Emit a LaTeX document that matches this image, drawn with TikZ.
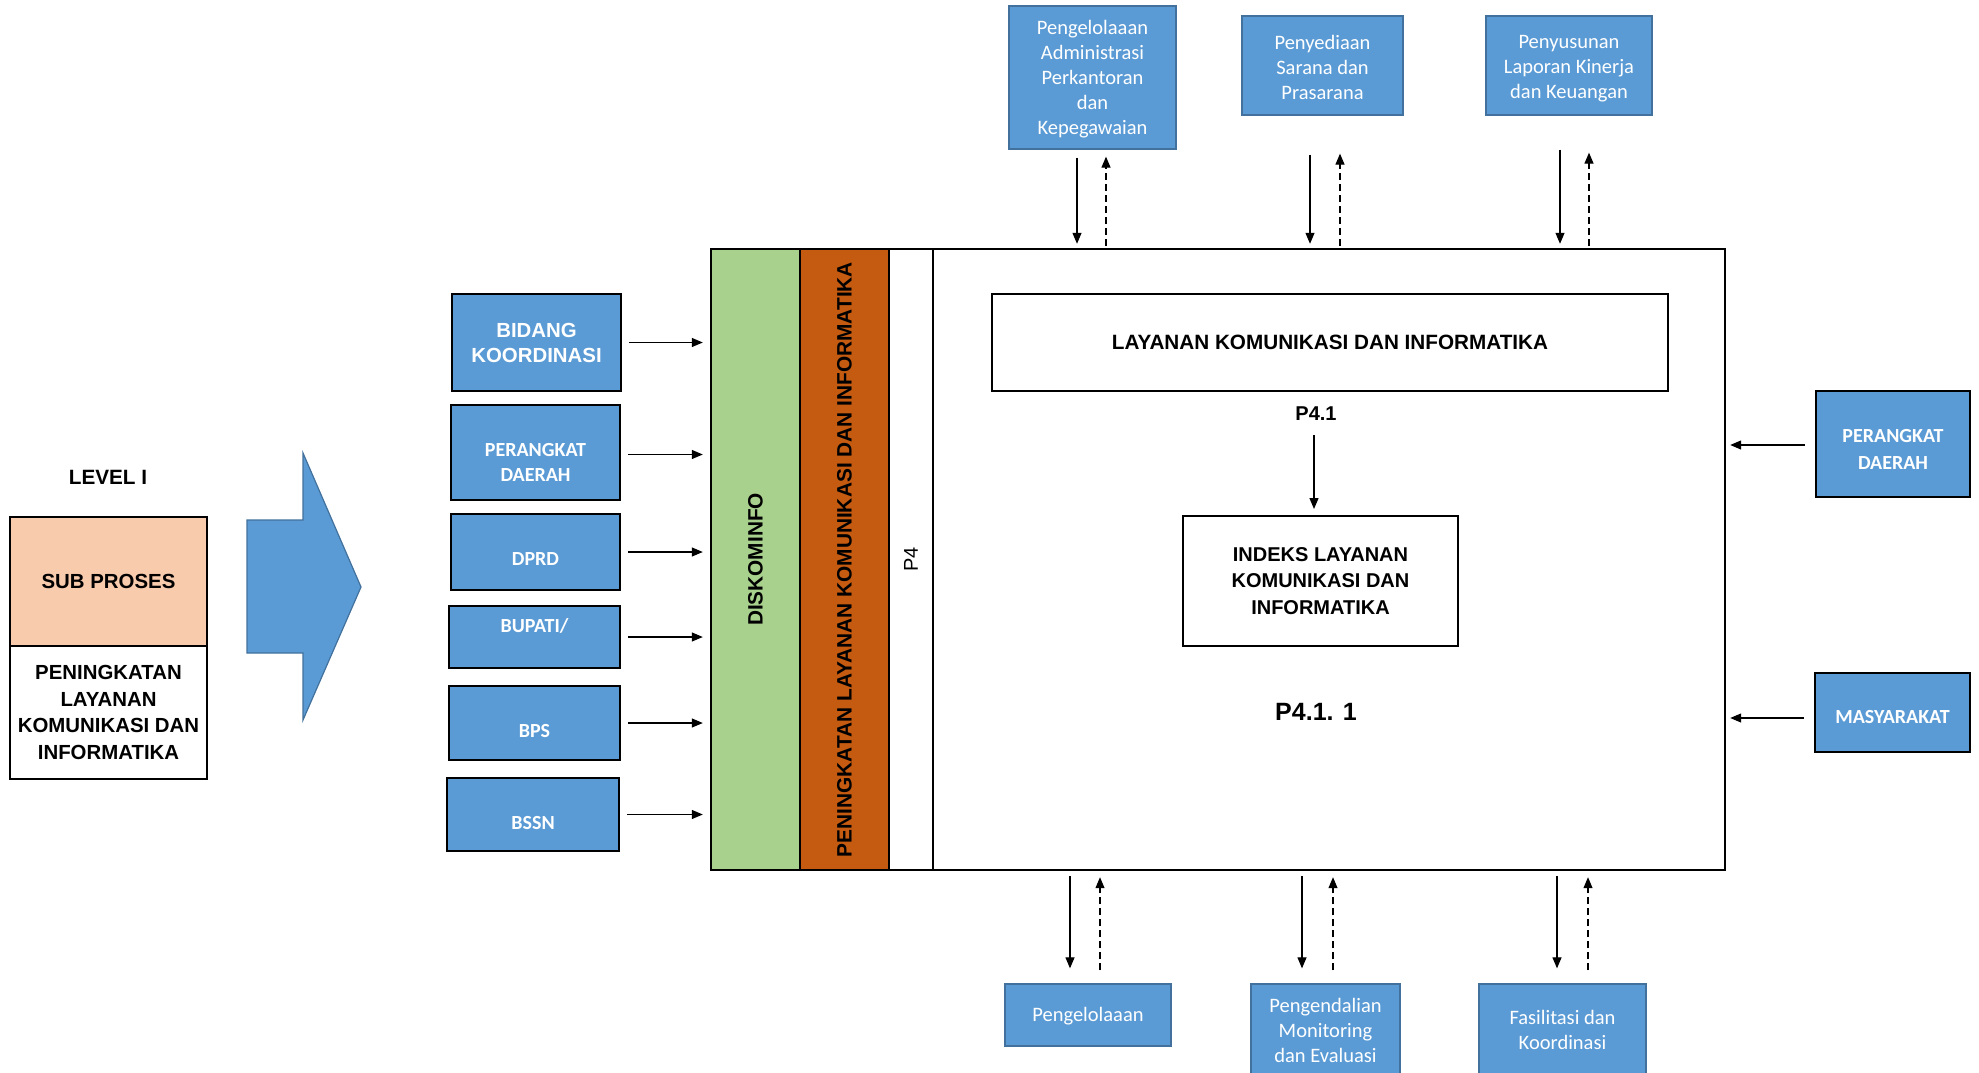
\documentclass[tikz,border=0pt]{standalone}
\usepackage{fontspec}
\setmainfont{Liberation Sans}
\newfontfamily\carl{Carlito}
\usetikzlibrary{arrows.meta,calc}
\definecolor{myblue}{HTML}{5B9BD5}
\definecolor{bluedark}{HTML}{41719C}
\definecolor{peach}{HTML}{F8CBAD}
\definecolor{mygreen}{HTML}{A9D18E}
\definecolor{myorange}{HTML}{C55A11}
\newcommand\fsz[2]{\fontsize{#1}{#2}\selectfont}
\tikzset{
  frame/.style={draw=black, line width=2.4pt, inner sep=0pt},
  lbox/.style={draw=black, line width=2.4pt, fill=myblue, inner sep=0pt, text=white, align=center},
  tbox/.style={draw=bluedark, line width=1.3pt, fill=myblue, inner sep=0pt, text=white, align=center, font=\carl\fsz{20.5}{25}},
  wcal/.style={text=white, align=center, inner sep=0pt, font=\carl\bfseries\fsz{20}{25}},
  ibox/.style={draw=black, line width=2pt, fill=white, inner sep=0pt, align=center, font=\bfseries\fsz{20}{26.5}},
  arr/.style={-{Triangle[length=11pt,width=9pt]}, line width=1.2pt},
  darr/.style={arr, dash pattern=on 7pt off 4pt},
}
\begin{document}
\begin{tikzpicture}[x=1pt,y=-1pt]
\useasboundingbox (0,0) rectangle (1979,1073);
\fill[white] (0,0) rectangle (1979,1073);

% left part
\node[font=\bfseries\fsz{20.7}{24}, inner sep=0pt] (lvl) at (108,477) {LEVEL I};
\node[frame, line width=2pt, fill=peach, minimum width=197pt, minimum height=129pt, font=\bfseries\fsz{20.4}{24}] (sp) at (108.5,581.5) {SUB PROSES};
\node[frame, line width=2pt, fill=white, minimum width=197pt, minimum height=133pt, align=center, font=\bfseries\fsz{20.4}{26.5}] (spw) at (108.5,712.5) {PENINGKATAN\\LAYANAN\\KOMUNIKASI DAN\\INFORMATIKA};

\draw[draw=bluedark, line width=1.2pt, fill=myblue]
  (247,520) -- (303,520) -- (303,453) -- (361,587) -- (303,720) -- (303,653) -- (247,653) -- cycle;

% source boxes
\node[lbox, minimum width=169pt, minimum height=97pt, font=\bfseries\fsz{20.4}{25}] (bid) at (536.5,342.5) {BIDANG\\KOORDINASI};
\node[lbox, minimum width=169pt, minimum height=95pt] (pd1) at (535.5,452.5) {};
\node[wcal] (pd1t) at (535.5,462) {PERANGKAT\\DAERAH};
\node[lbox, minimum width=169pt, minimum height=76pt] (dprd) at (535.5,552) {};
\node[wcal] (dprdt) at (535.5,559) {DPRD};
\node[lbox, minimum width=171pt, minimum height=62pt] (bup) at (534.5,637) {};
\node[wcal] (bupt) at (534.5,626) {BUPATI/};
\node[lbox, minimum width=171pt, minimum height=74pt] (bps) at (534.5,723) {};
\node[wcal] (bpst) at (534.5,731) {BPS};
\node[lbox, minimum width=172pt, minimum height=73pt] (bssn) at (533,814.5) {};
\node[wcal] (bssnt) at (533,823) {BSSN};

% columns and main frame
\node[frame, fill=mygreen, minimum width=89pt, minimum height=621pt] (dk) at (755.5,559.5) {};
\node[frame, fill=myorange, minimum width=89pt, minimum height=621pt] (pl) at (844.5,559.5) {};
\node[frame, fill=white, minimum width=44pt, minimum height=621pt] (p4) at (911,559.5) {};
\node[frame, fill=white, minimum width=792pt, minimum height=621pt] (main) at (1329,559.5) {};
\node[rotate=90, font=\bfseries\fsz{20.8}{24}, inner sep=0pt] (dkt) at (dk.center) {DISKOMINFO};
\node[rotate=90, font=\bfseries\fsz{20.85}{24}, inner sep=0pt] (plt) at (pl.center) {PENINGKATAN LAYANAN KOMUNIKASI DAN INFORMATIKA};
\node[rotate=90, font=\fsz{20}{24}, inner sep=0pt] (p4t) at (p4.center) {P4};

\draw[arr, shorten <=7pt, shorten >=7pt] (bid.east) -- (bid.east -| dk.west);
\draw[arr, shorten <=7pt, shorten >=7pt] ([yshift=-2pt]pd1.east) -- ([yshift=-2pt]pd1.east -| dk.west);
\foreach \n in {dprd,bup,bps,bssn}
  \draw[arr, shorten <=7pt, shorten >=7pt] (\n.east) -- (\n.east -| dk.west);

% inner content
\node[ibox, minimum width=676pt, minimum height=97pt, font=\bfseries\fsz{20.7}{26.5}] (lay) at (1330,342.5) {LAYANAN KOMUNIKASI DAN INFORMATIKA};
\node[font=\bfseries\fsz{20}{24}, inner sep=0pt] (p41) at (1316,414) {P4.1};
\node[ibox, minimum width=275pt, minimum height=130pt] (ind) at (1320.5,581) {INDEKS LAYANAN\\KOMUNIKASI DAN\\INFORMATIKA};
\node[font=\bfseries\fsz{25}{30}, inner sep=0pt] (p411) at (1316,712) {P4.1. 1};
\draw[arr, shorten <=14pt, shorten >=6pt] ([xshift=-6.5pt]ind.north |- p41.south) -- ([xshift=-6.5pt]ind.north);

% top boxes
\node[tbox, minimum width=167pt, minimum height=143pt] (t1) at (1092.5,77.5) {};
\node[tbox, fill=none, draw=none] (t1t) at (1092.5,79.5) {Pengelolaaan\\Administrasi\\Perkantoran\\dan\\Kepegawaian};
\node[tbox, minimum width=161pt, minimum height=99pt] (t2) at (1322.5,65.5) {};
\node[tbox, fill=none, draw=none] (t2t) at (1322.5,67.5) {Penyediaan\\Sarana dan\\Prasarana};
\node[tbox, minimum width=166pt, minimum height=99pt] (t3) at (1569,65.5) {};
\node[tbox, fill=none, draw=none] (t3t) at (1569,68.5) {Penyusunan\\Laporan Kinerja\\dan Keuangan};

\draw[arr, shorten <=8pt, shorten >=4pt] ([xshift=-15.5pt]t1.south) -- ([xshift=-15.5pt]t1.south |- main.north);
\draw[darr, shorten <=2pt, shorten >=7pt] ([xshift=13.5pt]t1.south |- main.north) -- ([xshift=13.5pt]t1.south);
\draw[arr, shorten <=39pt, shorten >=4pt] ([xshift=-12.5pt]t2.south) -- ([xshift=-12.5pt]t2.south |- main.north);
\draw[darr, shorten <=2pt, shorten >=38pt] ([xshift=17.5pt]t2.south |- main.north) -- ([xshift=17.5pt]t2.south);
\draw[arr, shorten <=34pt, shorten >=4pt] ([xshift=-9pt]t3.south) -- ([xshift=-9pt]t3.south |- main.north);
\draw[darr, shorten <=2pt, shorten >=37pt] ([xshift=20pt]t3.south |- main.north) -- ([xshift=20pt]t3.south);

% bottom boxes
\node[tbox, minimum width=166pt, minimum height=62pt] (b1) at (1088,1015) {};
\node[tbox, fill=none, draw=none] (b1t) at (1088,1016) {Pengelolaaan};
\node[tbox, minimum width=149pt, minimum height=90pt] (b2) at (1325.5,1029) {};
\node[tbox, fill=none, draw=none] (b2t) at (1325.5,1030) {Pengendalian\\Monitoring\\dan Evaluasi};
\node[tbox, minimum width=167pt, minimum height=90pt] (b3) at (1562.5,1029) {};
\node[tbox, fill=none, draw=none] (b3t) at (1562.5,1030) {Fasilitasi dan\\Koordinasi};

\draw[arr, shorten <=5pt, shorten >=15pt] ([xshift=-18pt]b1.north |- main.south) -- ([xshift=-18pt]b1.north);
\draw[darr, shorten <=13pt, shorten >=6pt] ([xshift=12pt]b1.north) -- ([xshift=12pt]b1.north |- main.south);
\draw[arr, shorten <=5pt, shorten >=15pt] ([xshift=-23.5pt]b2.north |- main.south) -- ([xshift=-23.5pt]b2.north);
\draw[darr, shorten <=13pt, shorten >=6pt] ([xshift=7.5pt]b2.north) -- ([xshift=7.5pt]b2.north |- main.south);
\draw[arr, shorten <=5pt, shorten >=15pt] ([xshift=-5.5pt]b3.north |- main.south) -- ([xshift=-5.5pt]b3.north);
\draw[darr, shorten <=13pt, shorten >=6pt] ([xshift=25.5pt]b3.north) -- ([xshift=25.5pt]b3.north |- main.south);

% right boxes
\node[lbox, minimum width=154pt, minimum height=106pt] (r1) at (1893,444) {};
\node[wcal, font=\carl\bfseries\fsz{20}{27}] (r1t) at (1893,449) {PERANGKAT\\DAERAH};
\node[lbox, minimum width=155pt, minimum height=79pt] (r2) at (1892.5,712.5) {};
\node[wcal] (r2t) at (1892.5,717.5) {MASYARAKAT};
\draw[arr, shorten <=10pt, shorten >=4pt] ([yshift=-1pt]r1.west) -- ([yshift=-1pt]r1.west -| main.east);
\draw[arr, shorten <=10pt, shorten >=4pt] ([yshift=-5.5pt]r2.west) -- ([yshift=-5.5pt]r2.west -| main.east);
\end{tikzpicture}
\end{document}
